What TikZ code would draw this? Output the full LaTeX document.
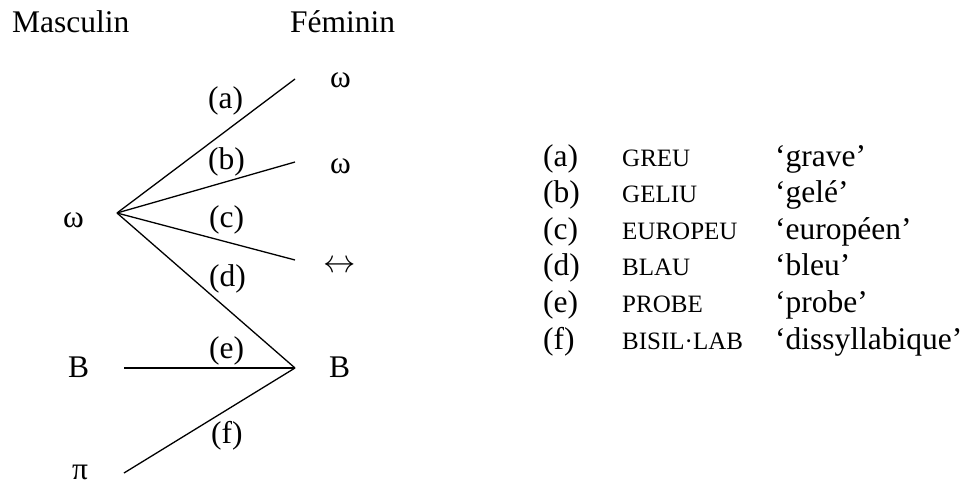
\documentclass[tikz,border=0pt]{standalone}
\usepackage{fontspec}
\setmainfont{Liberation Serif}
\usetikzlibrary{calc}

% Small capitals for the word forms
\newcommand{\formcaps}[1]{{\fontsize{25}{30}\selectfont #1}}

\begin{document}
\begin{tikzpicture}[x=1pt, y=-1pt,
    every node/.style={inner sep=0pt, font=\fontsize{31.5}{38}\selectfont},
    formLabel/.style={anchor=base west},
    branch/.style={line width=1.3pt}]
    % Define table spacing
    \def\rowSkip{36.6}

    % Fix the picture size
    \useasboundingbox (0,0) rectangle (963,484);

    % Column headings
    \node[formLabel] (mascHead) at (12,33) {Masculin};
    \node[formLabel] (femHead) at (290,33) {Féminin};

    % Masculine forms
    \node[formLabel] (mOmega) at (63,227) {ω};
    \node[formLabel] (mB) at (68,377) {B};
    \node[formLabel] (mPi) at (72,479) {π};

    % Feminine forms
    \node[formLabel] (fOmegaA) at (330,88) {ω};
    \node[formLabel] (fOmegaB) at (330,173) {ω};
    \node (fArrow) at (339.5,267) {\scalebox{1.3}{$\leftrightarrow$}};
    \node[formLabel] (fB) at (329,377) {B};

    % Define the end points of the branches
    \coordinate (vertex) at (117,213);
    \coordinate (endA) at (295,79);
    \coordinate (endB) at (295,162);
    \coordinate (endC) at (295,260);
    \coordinate (join) at (295,368);
    \coordinate (startE) at (124,368);
    \coordinate (startF) at (124,473);

    % Draw the branches
    \draw[branch] (vertex) -- (endA);
    \draw[branch] (vertex) -- (endB);
    \draw[branch] (vertex) -- (endC);
    \draw[branch] (vertex) -- (join);
    \draw[branch] (startE) -- (join);
    \draw[branch] (startF) -- (join);

    % Label the branches
    \node[formLabel] (labA) at (208,109) {(a)};
    \node[formLabel] (labB) at (208,169) {(b)};
    \node[formLabel] (labC) at (209,227) {(c)};
    \node[formLabel] (labD) at (209,286) {(d)};
    \node[formLabel] (labE) at (209,358) {(e)};
    \node[formLabel] (labF) at (211,443) {(f)};

    % Draw the key
    \foreach \lab/\form/\gloss [count=\i from 0] in
        {a/GREU/grave, b/GELIU/gelé, c/EUROPEU/européen,
         d/BLAU/bleu, e/PROBE/probe, f/BISIL·LAB/dissyllabique} {
        \node[formLabel] (key\lab) at (543,{166+\rowSkip*\i}) {(\lab)};
        \node[formLabel] (form\lab) at (622,{166+\rowSkip*\i}) {\formcaps{\form}};
        \node[formLabel] (gloss\lab) at (775,{166+\rowSkip*\i}) {`\gloss'};
    }

\end{tikzpicture}
\end{document}
